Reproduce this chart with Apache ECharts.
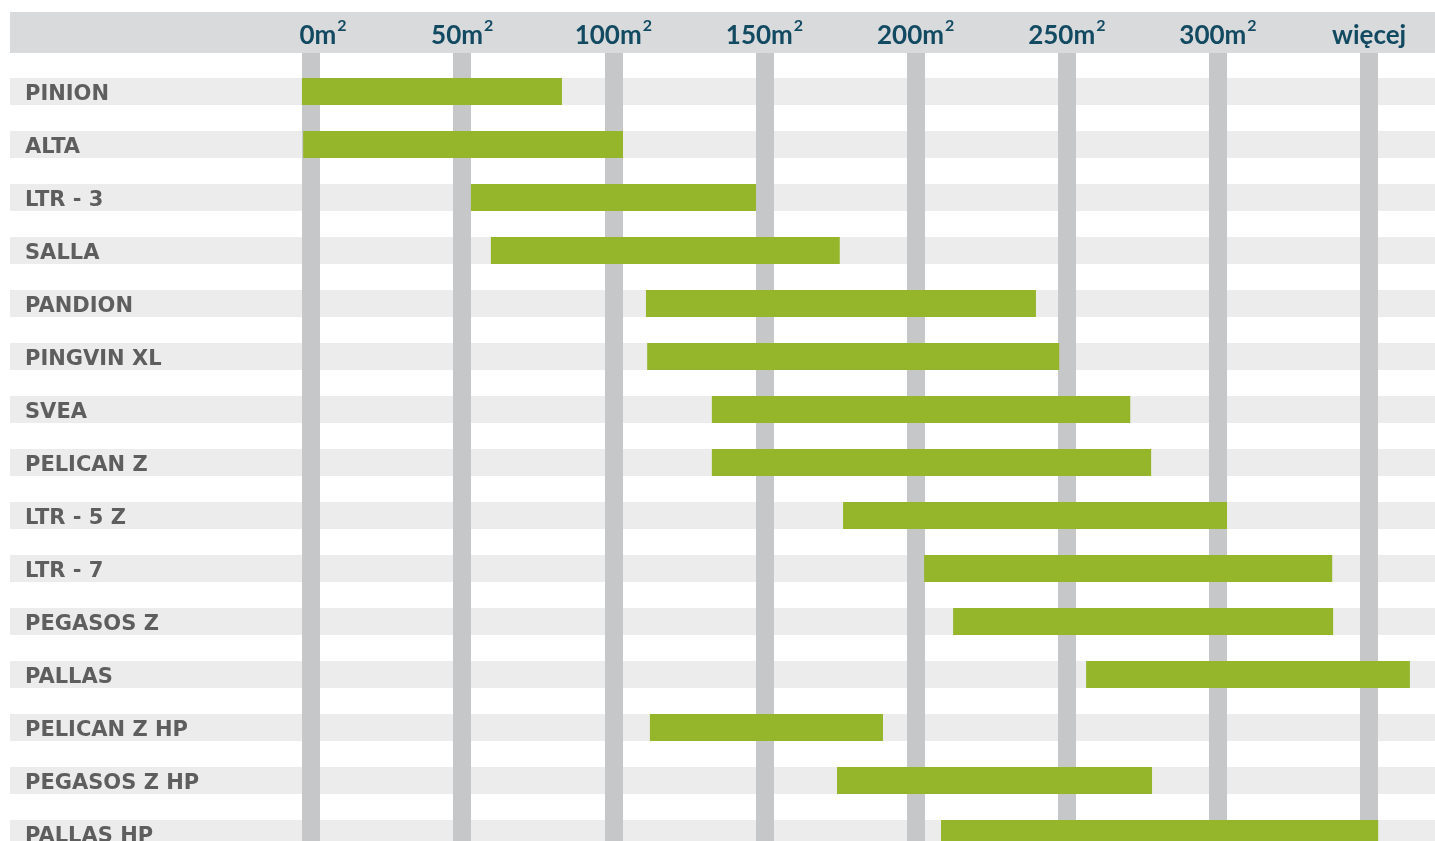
<!DOCTYPE html>
<html>
<head>
<meta charset="utf-8">
<script src="https://cdn.jsdelivr.net/npm/echarts@6/dist/echarts.min.js"></script>
<style>html,body{margin:0;padding:0;background:#fff;}#c{width:1435px;height:841px;}</style>
</head>
<body>
<div id="c"></div>
<script>
const categories = ['PINION','ALTA','LTR - 3','SALLA','PANDION','PINGVIN XL','SVEA','PELICAN Z','LTR - 5 Z','LTR - 7','PEGASOS Z','PALLAS','PELICAN Z HP','PEGASOS Z HP','PALLAS HP'];
const rangeStart = [-3, -2.6, 52.9, 59.5, 110.8, 111.2, 132.6, 132.6, 176.0, 202.8, 212.4, 256.4, 112.1, 174.0, 208.4];
const rangeEnd   = [83.0, 103.2, 147.2, 174.9, 239.8, 247.5, 271.0, 277.9, 303.0, 337.8, 338.1, 363.5, 189.2, 278.2, 353.0];
const tickValues = [0, 50, 100, 150, 200, 250, 300, 350];
const tickLabels = ['0m', '50m', '100m', '150m', '200m', '250m', '300m', 'więcej'];

const GREEN = '#95b52b';
const chart = echarts.init(document.getElementById('c'));

const barData = categories.map((c, i) => [rangeStart[i], rangeEnd[i], i]);

chart.setOption({
  animation: false,
  graphic: [{
    type: 'rect', z: 0, silent: true,
    shape: { x: 10, y: 12, width: 1425, height: 41 },
    style: { fill: '#d9dadc' }
  }],
  grid: [
    { left: 8.71, right: 0, top: 53, height: 820, containLabel: false, outerBoundsMode: 'none' },
    { left: 10, right: 0, top: 65, height: 795, containLabel: false, outerBoundsMode: 'none' }
  ],
  xAxis: [
    {
      gridIndex: 0, type: 'value', position: 'top', min: -100, max: 371.8, interval: 50, z: 5,
      axisLine: { show: false }, axisTick: { show: false }, splitLine: { show: false },
      axisLabel: {
        margin: -1,
        formatter: function (v) {
          const k = tickValues.indexOf(v);
          if (k < 0) return '';
          const t = tickLabels[k];
          if (v === 350) return '{w|' + t + '}';
          if (v === 0) return '{z|' + t + '}{s|2}';
          return '{a|' + t + '}{s|2}';
        },
        rich: {
          a: { fontFamily: 'Lato', fontWeight: 'bold', fontSize: 26, color: '#124a62', lineHeight: 36 },
          z: { fontFamily: 'Lato', fontWeight: 'bold', fontSize: 26, color: '#124a62', lineHeight: 36, padding: [0, 0, 0, 24] },
          w: { fontFamily: 'Lato', fontWeight: 'bold', fontSize: 26, color: '#124a62', lineHeight: 36 },
          s: { fontFamily: 'Lato', fontWeight: 'bold', fontSize: 16, color: '#124a62', lineHeight: 16, verticalAlign: 'top', padding: [0, 0, 0, 1] }
        }
      }
    },
    {
      gridIndex: 1, type: 'value', min: -99.57, max: 371.8, show: false
    }
  ],
  yAxis: [
    { gridIndex: 0, type: 'value', min: 0, max: 1, show: false },
    {
      gridIndex: 1, type: 'category', data: categories, inverse: true, z: 10,
      axisLine: { show: false }, axisTick: { show: false }, splitLine: { show: false },
      axisLabel: {
        inside: true, margin: 15, align: 'left', verticalAlign: 'middle',
        formatter: function (v) { return '{n|' + v + '}'; },
        rich: {
          n: { fontFamily: 'DejaVu Sans', fontWeight: 'bold', fontSize: 21, color: '#5e5e5e', lineHeight: 24, padding: [6, 0, 0, 0] }
        }
      }
    }
  ],
  series: [
    {
      type: 'bar', xAxisIndex: 1, yAxisIndex: 1, z: 1,
      data: rangeEnd, barWidth: 27, silent: true,
      itemStyle: { color: 'rgba(0,0,0,0)' },
      showBackground: true, backgroundStyle: { color: '#ececec' }
    },
    {
      type: 'scatter', xAxisIndex: 0, yAxisIndex: 0, z: 2, data: [], silent: true,
      markLine: {
        z: 2, silent: true, symbol: 'none', label: { show: false },
        lineStyle: { color: '#c6c7c9', width: 18, type: 'solid', opacity: 1 },
        emphasis: { disabled: true },
        data: tickValues.map(v => ({ xAxis: v }))
      }
    },
    {
      type: 'custom', xAxisIndex: 1, yAxisIndex: 1, z: 6, silent: true, clip: false,
      encode: { x: [0, 1], y: 2 },
      data: barData,
      renderItem: function (params, api) {
        const s = api.coord([api.value(0), api.value(2)]);
        const e = api.coord([api.value(1), api.value(2)]);
        const h = api.size([0, 1])[1] * 27 / 53;
        return {
          type: 'rect',
          shape: { x: s[0], y: s[1] - h / 2, width: e[0] - s[0], height: h },
          style: { fill: GREEN }
        };
      }
    }
  ]
});
</script>
</body>
</html>
